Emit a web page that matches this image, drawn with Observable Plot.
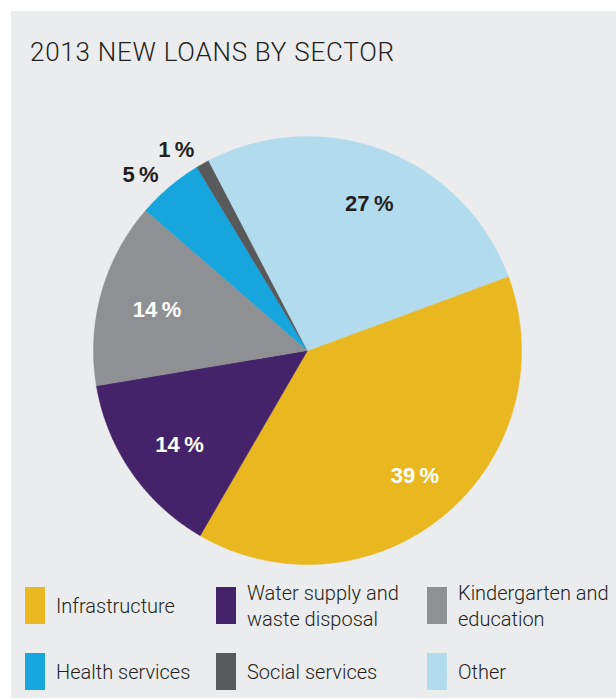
<!DOCTYPE html>
<html>
<head>
<meta charset="utf-8">
<script src="https://cdn.jsdelivr.net/npm/d3@7"></script>
<script src="https://cdn.jsdelivr.net/npm/@observablehq/plot@0.6"></script>
<style>
html, body { margin: 0; padding: 0; background: #fff; }
#page { position: relative; width: 616px; height: 699px; overflow: hidden; background: #fff; font-family: Roboto, "Liberation Sans", sans-serif; }
#panel { position: absolute; left: 11px; top: 11px; right: 0; bottom: 1px; background: #ebecee; }
#title { position: absolute; left: 30px; top: 37px; font-size: 26px; letter-spacing: 0.75px; font-weight: 300; color: #231f20; line-height: 30px; white-space: nowrap; }
#chart { position: absolute; left: 0; top: 110px; }
.item { position: absolute; height: 37px; display: flex; align-items: center; }
.sw { width: 20px; height: 37px; flex: none; }
.lab { margin-left: 11px; font-size: 20px; font-weight: 300; line-height: 26px; color: #231f20; }
</style>
</head>
<body>
<div id="page">
  <div id="panel"></div>
  <div id="title">2013 NEW LOANS BY SECTOR</div>
  <div id="chart"></div>
  <div id="legend"></div>
</div>
<script>
// ---- data ----
const sectors = ["Infrastructure", "Water supply and waste disposal", "Kindergarten and education", "Health services", "Social services", "Other"];
const shares = [39, 14, 14, 5, 1, 27];
const colors = ["#e9b71f", "#45236a", "#8f9093", "#17a5dd", "#58595b", "#b2dcee"];
const labelInk = ["#ffffff", "#ffffff", "#ffffff", "#231f20", "#231f20", "#231f20"];
const startDeg = 69.7; // clockwise from 12 o'clock, where Infrastructure begins

// ---- build ----
const rows = sectors.map((s, i) => ({sector: s, share: shares[i], ink: labelInk[i]}));
const R = 214;
const rad = Math.PI / 180;
const arcs = d3.pie().sort(null).value(d => d.share)
  .startAngle(startDeg * rad).endAngle(startDeg * rad + 2 * Math.PI)(rows);

const poly = [];
const labels = [];
arcs.forEach(a => {
  const s = a.data.sector;
  poly.push({sector: s, x: 0, y: 0});
  const n = Math.max(2, Math.ceil((a.endAngle - a.startAngle) / (0.5 * rad)));
  for (let i = 0; i <= n; i++) {
    const t = a.startAngle + (a.endAngle - a.startAngle) * i / n;
    poly.push({sector: s, x: R * Math.sin(t), y: R * Math.cos(t)});
  }
  const mid = (a.startAngle + a.endAngle) / 2;
  const outside = a.data.share < 6;
  const r = outside ? 1.08 * R : 0.75 * R;
  labels.push({x: r * Math.sin(mid), y: r * Math.cos(mid), text: `${a.data.share}\u2009%`, ink: a.data.ink, outside});
});

const textOpts = {x: "x", y: "y", text: "text", fontSize: 22, fontWeight: "bold", fontFamily: "'Liberation Sans', Arial, sans-serif"};

const chart = Plot.plot({
  width: 616,
  height: 470,
  margin: 0,
  x: {domain: [-307, 309], axis: null},
  y: {domain: [-230, 240], axis: null},
  color: {domain: sectors, range: colors},
  style: {background: "transparent", overflow: "visible"},
  marks: [
    Plot.line(poly, {x: "x", y: "y", z: "sector", fill: "sector", stroke: "sector", strokeWidth: 0.5, curve: "linear-closed"}),
    Plot.text(labels.filter(d => !d.outside && d.ink === "#ffffff"), {...textOpts, fill: "#ffffff", dx: 4, dy: 3}),
    Plot.text(labels.filter(d => !d.outside && d.ink !== "#ffffff"), {...textOpts, fill: "#231f20", dx: 4, dy: 3}),
    Plot.text(labels.filter(d => d.outside), {...textOpts, fill: "#231f20", textAnchor: "end", dy: 1})
  ]
});
document.getElementById("chart").appendChild(chart);

// ---- legend ----
const legendLeft = [25, 216, 427];
const legendTop = [587, 653];
const legend = document.getElementById("legend");
sectors.forEach((s, i) => {
  const item = document.createElement("div");
  item.className = "item";
  item.style.left = legendLeft[i % 3] + "px";
  item.style.top = legendTop[Math.floor(i / 3)] + "px";
  const sw = document.createElement("div");
  sw.className = "sw";
  sw.style.background = colors[i];
  const lab = document.createElement("div");
  lab.className = "lab";
  lab.style.width = (i % 3 === 2 ? 170 : 160) + "px";
  lab.textContent = s;
  item.appendChild(sw);
  item.appendChild(lab);
  legend.appendChild(item);
});
</script>
</body>
</html>
